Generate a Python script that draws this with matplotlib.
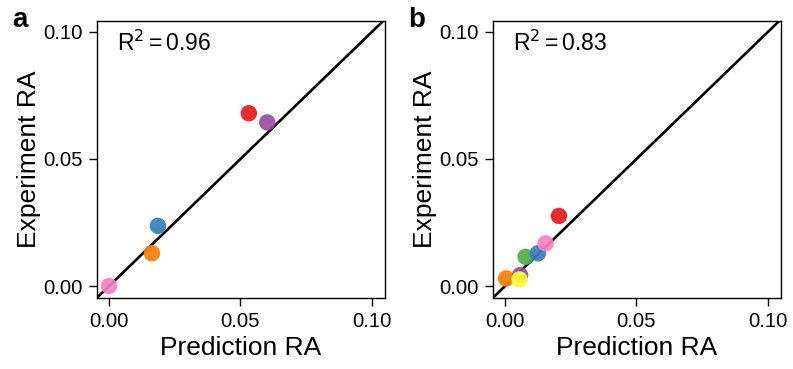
import matplotlib
matplotlib.use('Agg')
import matplotlib.pyplot as plt

plt.rcParams['font.family'] = ['Liberation Sans', 'DejaVu Sans']

# ── data ──────────────────────────────────────────────────────────────────────
a_pred = [0.0, 0.0163, 0.0186, 0.0532, 0.0602]
a_exp  = [0.0, 0.0129, 0.0237, 0.0680, 0.0644]
a_col  = ['#F781BF', '#FF7F00', '#377EB8', '#E41A1C', '#984EA3']
a_r2   = '0.96'

b_pred = [0.0004, 0.0057, 0.0055, 0.0078, 0.0125, 0.0154, 0.0205]
b_exp  = [0.0030, 0.0043, 0.0026, 0.0115, 0.0129, 0.0168, 0.0276]
b_col  = ['#FF7F00', '#984EA3', '#FFFF33', '#4DAF4A', '#377EB8', '#F781BF', '#E41A1C']
b_r2   = '0.83'

ticks = [0.0, 0.05, 0.10]
tick_labels = ['0.00', '0.05', '0.10']

panels = [('a', a_pred, a_exp, a_col, a_r2),
          ('b', b_pred, b_exp, b_col, b_r2)]

fig = plt.figure(figsize=(7.93, 3.69), dpi=100)
lefts = [0.1223, 0.6217]

for (tag, xp, ye, cols, r2), left in zip(panels, lefts):
    ax = fig.add_axes([left, 0.1924, 0.3632, 0.7507])
    lo, hi = -0.0046, 0.105
    ax.plot([lo, 0.12], [lo, 0.12], color='black', lw=1.9, zorder=2)
    ax.scatter(xp, ye, s=140, c=cols, alpha=0.92, edgecolors='none', zorder=3)
    ax.set_xlim(lo, hi)
    ax.set_ylim(-0.0047, 0.1043)
    ax.set_xticks(ticks)
    ax.set_xticklabels(tick_labels)
    ax.set_yticks(ticks)
    ax.set_yticklabels(tick_labels)
    ax.tick_params(labelsize=14.7, length=5.5, width=1.0, pad=4.5)
    for sp in ax.spines.values():
        sp.set_linewidth(1.0)
    ax.set_xlabel('Prediction RA', fontsize=19, labelpad=4)
    ax.set_ylabel('Experiment RA', fontsize=19, labelpad=2)
    ax.text(0.068, 0.92, r'R$^2$$\,$=$\,$' + r2, transform=ax.transAxes,
            fontsize=16.5, ha='left', va='center')
    fig.text(left - 0.107, 0.946, tag, fontsize=20, fontweight='bold',
             ha='left', va='center')

fig.savefig('out.png', dpi=100)
